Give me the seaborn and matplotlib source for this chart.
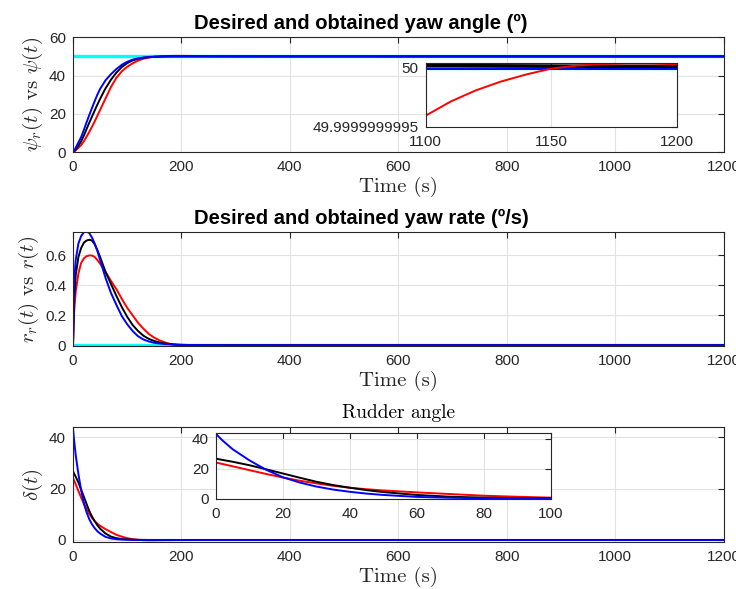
import matplotlib
matplotlib.use('Agg')
import matplotlib.pyplot as plt
import seaborn as sns

# time samples (s)
t = [0, 2, 5, 10, 15, 20, 25, 30, 35, 40, 45, 50, 60, 70, 80, 90, 100, 110, 120,
     130, 140, 150, 160, 170, 180, 190, 200, 220, 250, 300, 400, 1200]

# desired signals (cyan)
t_ref = [0, 1200]
psi_ref = [50, 50]
r_ref = [0, 0]

# yaw angle (deg)
psi_red = [0, 0.2, 0.9, 2.2, 3.6, 5.6, 8, 10.5, 13.2, 16, 19, 22, 28, 34, 38.8, 42.2, 44.6, 46.4, 47.8,
           48.8, 49.4, 49.8, 50, 50.15, 50.25, 50.3, 50.3, 50.25, 50.15, 50.05, 50.01, 50]
psi_black = [0, 0.3, 1.3, 3.3, 5.6, 8.6, 12, 15.3, 18.5, 21.7, 24.8, 27.8, 33.3, 37.8, 41.5, 44.4, 46.5, 47.9, 48.8,
             49.3, 49.6, 49.8, 49.92, 49.97, 50, 50.02, 50.02, 50.01, 50, 50, 50, 50]
psi_blue = [0, 0.6, 2.2, 5, 7.8, 11.5, 15.5, 19.3, 23, 26.6, 30, 33, 37.5, 40.7, 43.4, 45.6, 47.2, 48.3, 49,
            49.4, 49.7, 49.85, 49.93, 49.97, 49.99, 50, 50, 50, 50, 50, 50, 50]

# yaw rate (deg/s)
r_red = [0, 0.22, 0.36, 0.48, 0.55, 0.58, 0.595, 0.6, 0.6, 0.59, 0.57, 0.545, 0.49, 0.43, 0.375, 0.31, 0.25, 0.2, 0.15,
         0.11, 0.075, 0.05, 0.032, 0.018, 0.008, 0.002, -0.002, -0.004, -0.003, -0.002, 0, 0]
r_black = [0, 0.3, 0.47, 0.59, 0.65, 0.685, 0.7, 0.705, 0.7, 0.675, 0.635, 0.59, 0.49, 0.41, 0.33, 0.255, 0.19, 0.135, 0.095,
           0.063, 0.042, 0.028, 0.018, 0.011, 0.007, 0.004, 0.002, 0.001, 0, 0, 0, 0]
r_blue = [0, 0.42, 0.57, 0.68, 0.73, 0.755, 0.76, 0.75, 0.72, 0.68, 0.63, 0.57, 0.45, 0.35, 0.27, 0.195, 0.14, 0.095, 0.06,
          0.038, 0.025, 0.016, 0.011, 0.008, 0.006, 0.004, 0.003, 0.001, 0, 0, 0, 0]

# rudder angle (deg)
d_red = [24.1, 23.1, 21.6, 19, 16.5, 14.1, 12, 10.2, 8.6, 7.3, 6.3, 5.5, 4.2, 3.1, 2, 1.3, 0.7, 0.3, 0.05,
         -0.1, -0.15, -0.15, -0.12, -0.1, -0.08, -0.06, -0.05, -0.03, -0.02, -0.01, 0, 0]
d_black = [26.7, 25.8, 24.6, 22.3, 19.6, 16.8, 14, 11.3, 9.1, 7.3, 5.7, 4.4, 2.5, 1.3, 0.7, 0.35, 0.2, 0.1, 0.05,
           0.02, 0, 0, 0, 0, 0, 0, 0, 0, 0, 0, 0, 0]
d_blue = [43.3, 38.8, 33, 25.6, 19.3, 14.3, 10.8, 8.1, 6.1, 4.6, 3.4, 2.5, 1.2, 0.6, 0.3, 0.15, 0.08, 0.04, 0.02,
          0.01, 0, 0, 0, 0, 0, 0, 0, 0, 0, 0, 0, 0]

# zoom on the yaw angle between 1100 and 1200 s
t_zoom = [1100, 1110, 1120, 1130, 1140, 1150, 1160, 1170, 1180, 1190, 1200]
psi_red_zoom = [49.999999999594, 49.999999999715, 49.99999999981, 49.999999999885, 49.999999999945,
                49.999999999995, 50.00000000002, 50.000000000034, 50.00000000004, 50.00000000004, 50.00000000003]
psi_black_zoom = [50.00000000002, 50.00000000002, 50.000000000019, 50.000000000018, 50.000000000017,
                  50.000000000016, 50.000000000015, 50.000000000015, 50.000000000014, 50.000000000014, 50.000000000014]
psi_blue_zoom = [49.99999999999, 49.99999999999, 49.99999999999, 49.99999999999, 49.99999999999,
                 49.99999999999, 49.99999999999, 49.99999999999, 49.99999999999, 49.99999999999, 49.99999999999]
psi_ref_zoom = [50, 50]
t_ref_zoom = [1100, 1200]

sns.set_theme(style='whitegrid')
plt.rcParams['font.family'] = ['Liberation Sans', 'DejaVu Sans']
plt.rcParams['mathtext.fontset'] = 'cm'

W, H = 736, 589
fig = plt.figure(figsize=(W / 100, H / 100), dpi=100)


def box(left, top, right, bottom):
    return [left / W, 1 - bottom / H, (right - left) / W, (bottom - top) / H]


def style(ax, size=11):
    ax.tick_params(direction='in', top=True, right=True, length=4, width=0.8,
                   colors='#262626', labelsize=size, pad=6)
    ax.tick_params(axis='y', pad=5)
    for s in ax.spines.values():
        s.set_color('#262626')
        s.set_linewidth(0.8)
        s.set_visible(True)
    ax.grid(True, color='#e2e2e2', linewidth=0.8)
    ax.set_axisbelow(True)
    ax.set_facecolor('white')


def draw(ax, x_ref, y_ref, x, reds, blacks, blues, lw=1.4):
    if y_ref is not None:
        sns.lineplot(x=x_ref, y=y_ref, ax=ax, color='#00ffff', linewidth=2.4)
    sns.lineplot(x=x, y=reds, ax=ax, color='red', linewidth=lw)
    sns.lineplot(x=x, y=blacks, ax=ax, color='black', linewidth=lw)
    sns.lineplot(x=x, y=blues, ax=ax, color='blue', linewidth=lw)
    ax.set_xlabel('')
    ax.set_ylabel('')


serif = 'cmr10'
# the bold titles sit a little left of the axes centre in the original
title_kw = dict(fontweight='bold', fontsize=14.5, color='black', pad=6, x=0.443)
xlab_kw = dict(fontfamily=serif, fontsize=15, labelpad=2, color='#262626')
ylab_kw = dict(fontfamily=serif, fontsize=15, labelpad=3, color='#262626')

# yaw angle
ax1 = fig.add_axes(box(73, 37.3, 723.5, 152))
draw(ax1, t_ref, psi_ref, t, psi_red, psi_black, psi_blue)
ax1.set_xlim(0, 1200)
ax1.set_ylim(0, 60)
ax1.set_xticks(range(0, 1201, 200))
ax1.set_yticks([0, 20, 40, 60])
style(ax1)
ax1.set_title('Desired and obtained yaw angle (º)', **title_kw)
ax1.set_xlabel('Time (s)', **xlab_kw)
ax1.set_ylabel(r'$\psi_r(t)$ vs $\psi(t)$', **ylab_kw)

ins1 = fig.add_axes(box(425.7, 63.3, 677, 126.7))
sns.lineplot(x=t_ref_zoom, y=psi_ref_zoom, ax=ins1, color='#00ffff', linewidth=2.4)
sns.lineplot(x=t_zoom, y=psi_black_zoom, ax=ins1, color='black', linewidth=2.6)
sns.lineplot(x=t_zoom, y=psi_blue_zoom, ax=ins1, color='blue', linewidth=1.4)
sns.lineplot(x=t_zoom, y=psi_red_zoom, ax=ins1, color='red', linewidth=1.4)
ins1.set_xlim(1100, 1200)
ins1.set_ylim(49.9999999995, 50.00000000004)
ins1.set_xticks([1100, 1150, 1200])
ins1.set_yticks([49.9999999995, 50])
ins1.set_yticklabels(['49.9999999995', '50'])
style(ins1)
ins1.set_xlabel('')
ins1.set_ylabel('')

# yaw rate
ax2 = fig.add_axes(box(73, 232.3, 723.5, 345.8))
draw(ax2, t_ref, r_ref, t, r_red, r_black, r_blue)
ax2.set_xlim(0, 1200)
ax2.set_ylim(-0.004, 0.755)
ax2.set_xticks(range(0, 1201, 200))
ax2.set_yticks([0, 0.2, 0.4, 0.6])
ax2.set_yticklabels(['0', '0.2', '0.4', '0.6'])
style(ax2)
ax2.set_title('Desired and obtained yaw rate (º/s)', **title_kw)
ax2.set_xlabel('Time (s)', **xlab_kw)
ax2.set_ylabel(r'$r_r(t)$ vs $r(t)$', **ylab_kw)

# rudder angle
ax3 = fig.add_axes(box(73, 427.3, 723.5, 541.5))
draw(ax3, None, None, t, d_red, d_black, d_blue)
ax3.set_xlim(0, 1200)
ax3.set_ylim(-0.6, 43.8)
ax3.set_xticks(range(0, 1201, 200))
ax3.set_yticks([0, 20, 40])
style(ax3)
ax3.set_title('Rudder angle', fontfamily=serif, fontsize=14, pad=7, color='black')
ax3.set_xlabel('Time (s)', **xlab_kw)
ax3.set_ylabel(r'$\delta(t)$', **ylab_kw)

ins3 = fig.add_axes(box(215.7, 433.3, 550.7, 498.7))
draw(ins3, None, None, t, d_red, d_black, d_blue)
ins3.set_xlim(0, 100)
ins3.set_ylim(0, 43.5)
ins3.set_xticks(range(0, 101, 20))
ins3.set_yticks([0, 20, 40])
style(ins3)

fig.savefig('out.png', dpi=100)
